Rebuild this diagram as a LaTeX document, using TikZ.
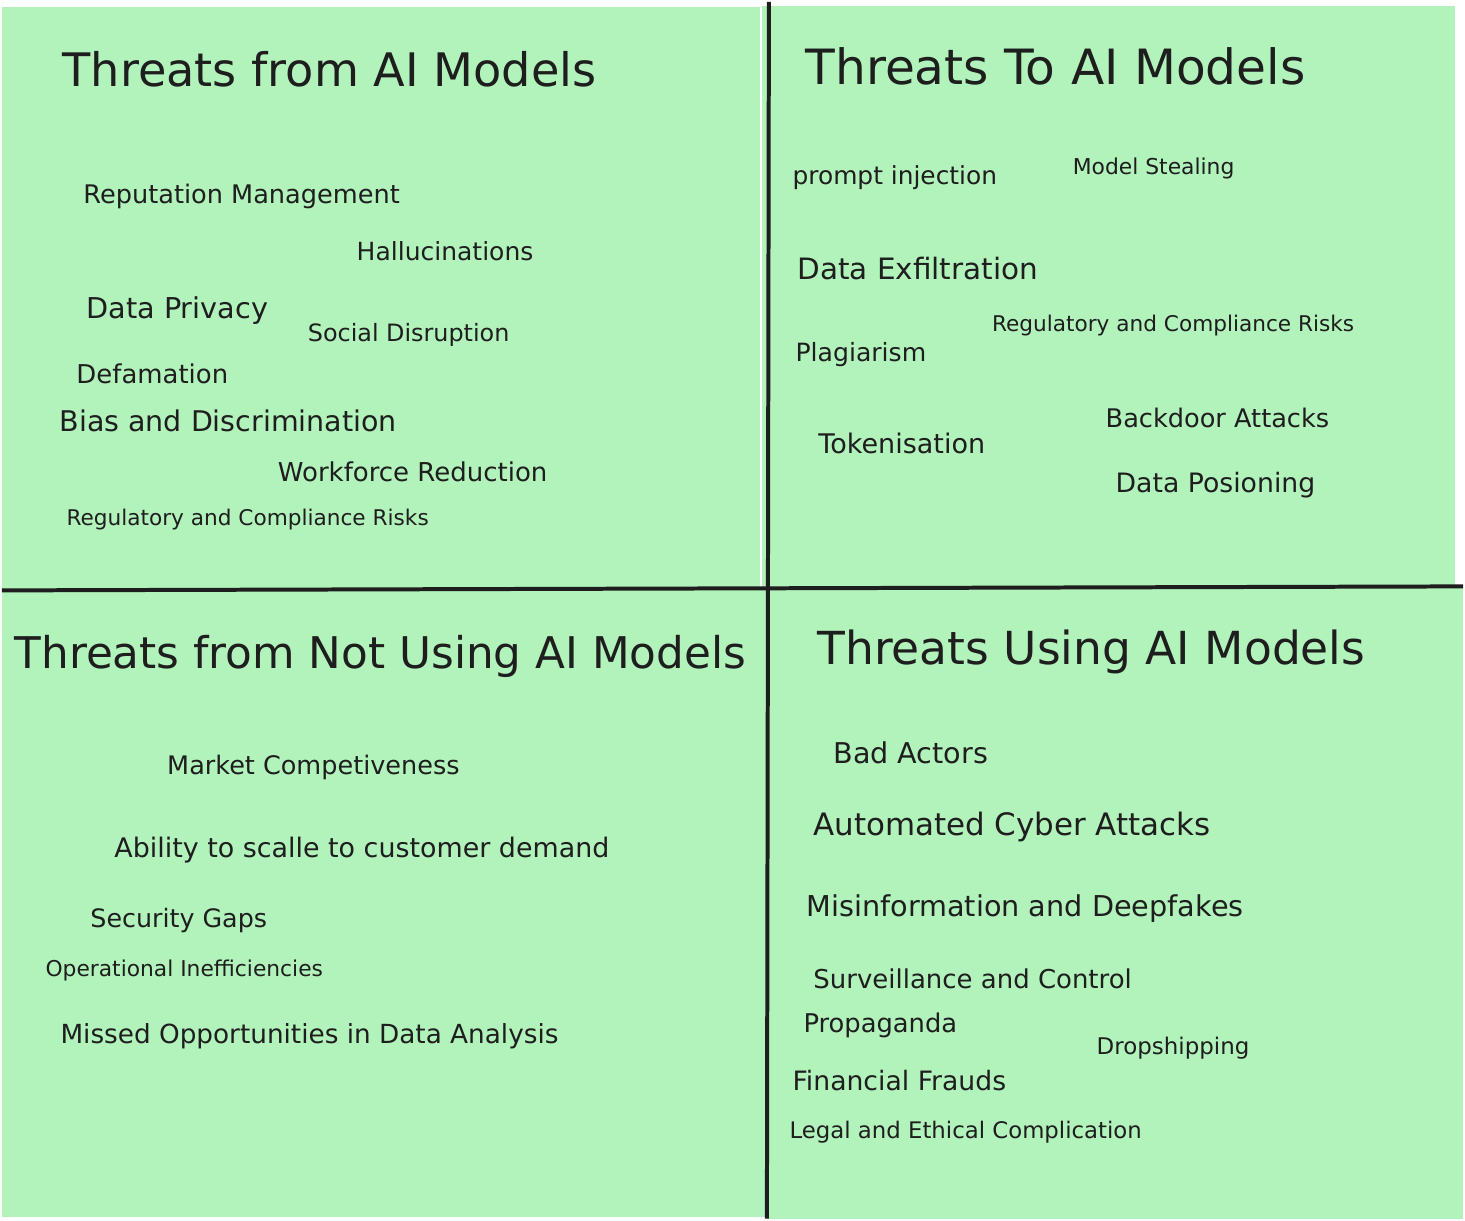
\documentclass[tikz,border=0pt]{standalone}
\usepackage{fontspec}
\setmainfont{DejaVu Sans}
\usepackage{graphicx}
\definecolor{paneGreen}{HTML}{B2F2BB}
\definecolor{inkDark}{HTML}{1E1E1E}
\newcommand{\fitw}[2]{\resizebox{#1}{!}{#2}}

\begin{document}
\begin{tikzpicture}[x=0.01cm, y=-0.01cm,
	heading/.style={anchor=base west, inner sep=0pt, text=inkDark},
	threat/.style={anchor=base west, inner sep=0pt, text=inkDark},
	divider/.style={line width=0.04cm, color=inkDark}]
		%%%%% PANES %%%%%
		\fill[white] (0, 0) rectangle (1465, 1220);
		\fill[paneGreen] (0, 5) rectangle (760, 592);
		\fill[paneGreen] (762, 4) rectangle (1457, 592);
		\fill[paneGreen] (0, 588) rectangle (767, 1218);
		\fill[paneGreen] (767, 586) rectangle (1465, 1220);
		
		\coordinate (vtop) at (769, 0);
		\coordinate (vbot) at (767, 1220);
		\coordinate (hleft) at (0, 590);
		\coordinate (hright) at (1465, 586);
		\draw[divider] (vtop) -- (vbot);
		\draw[divider] (hleft) -- (hright);
		
		%%%%% THREATS FROM AI MODELS %%%%%
		\node[heading] (fromtitle) at (60, 85) {\fitw{5.35cm}{Threats from AI Models}};
		\node[threat] (repmgmt) at (81, 202) {\fitw{3.17cm}{Reputation Management}};
		\node[threat] (halluc) at (355, 259) {\fitw{1.77cm}{Hallucinations}};
		\node[threat] (privacy) at (84, 317) {\fitw{1.82cm}{Data Privacy}};
		\node[threat] (social) at (306, 340) {\fitw{2.02cm}{Social Disruption}};
		\node[threat] (defam) at (74, 383) {\fitw{1.52cm}{Defamation}};
		\node[threat] (bias) at (57, 431) {\fitw{3.38cm}{Bias and Discrimination}};
		\node[threat] (workforce) at (276, 481) {\fitw{2.70cm}{Workforce Reduction}};
		\node[threat] (regfrom) at (64, 525) {\fitw{3.63cm}{Regulatory and Compliance Risks}};
		
		%%%%% THREATS TO AI MODELS %%%%%
		\node[heading] (totitle) at (805, 83) {\fitw{5.01cm}{Threats To AI Models}};
		\node[threat] (prompt) at (792, 183) {\fitw{2.05cm}{prompt injection}};
		\node[threat] (stealing) at (1073, 173) {\fitw{1.62cm}{Model Stealing}};
		\node[threat] (exfil) at (797, 278) {\fitw{2.41cm}{Data Exfiltration}};
		\node[threat] (regto) at (992, 330) {\fitw{3.63cm}{Regulatory and Compliance Risks}};
		\node[threat] (plagiar) at (795, 360) {\fitw{1.31cm}{Plagiarism}};
		\node[threat] (backdoor) at (1106, 427) {\fitw{2.24cm}{Backdoor Attacks}};
		\node[threat] (token) at (818, 453) {\fitw{1.67cm}{Tokenisation}};
		\node[threat] (poison) at (1116, 492) {\fitw{2.00cm}{Data Posioning}};
		
		%%%%% THREATS FROM NOT USING AI MODELS %%%%%
		\node[heading] (nottitle) at (12, 668) {\fitw{7.33cm}{Threats from Not Using AI Models}};
		\node[threat] (market) at (165, 775) {\fitw{2.93cm}{Market Competiveness}};
		\node[threat] (scale) at (112, 858) {\fitw{4.96cm}{Ability to scalle to customer demand}};
		\node[threat] (secgaps) at (88, 928) {\fitw{1.77cm}{Security Gaps}};
		\node[threat] (operat) at (43, 977) {\fitw{2.78cm}{Operational Inefficiencies}};
		\node[threat] (missed) at (58, 1044) {\fitw{4.99cm}{Missed Opportunities in Data Analysis}};
		
		%%%%% THREATS USING AI MODELS %%%%%
		\node[heading] (usingtitle) at (817, 664) {\fitw{5.49cm}{Threats Using AI Models}};
		\node[threat] (badact) at (833, 764) {\fitw{1.55cm}{Bad Actors}};
		\node[threat] (cyber) at (813, 836) {\fitw{3.98cm}{Automated Cyber Attacks}};
		\node[threat] (misinfo) at (806, 917) {\fitw{4.38cm}{Misinformation and Deepfakes}};
		\node[threat] (surveil) at (813, 989) {\fitw{3.19cm}{Surveillance and Control}};
		\node[threat] (propag) at (803, 1033) {\fitw{1.54cm}{Propaganda}};
		\node[threat] (dropship) at (1097, 1055) {\fitw{1.53cm}{Dropshipping}};
		\node[threat] (frauds) at (792, 1091) {\fitw{2.14cm}{Financial Frauds}};
		\node[threat] (legal) at (789, 1140) {\fitw{3.53cm}{Legal and Ethical Complication}};
		
		%%%%% END %%%%%
	\end{tikzpicture}
\end{document}
